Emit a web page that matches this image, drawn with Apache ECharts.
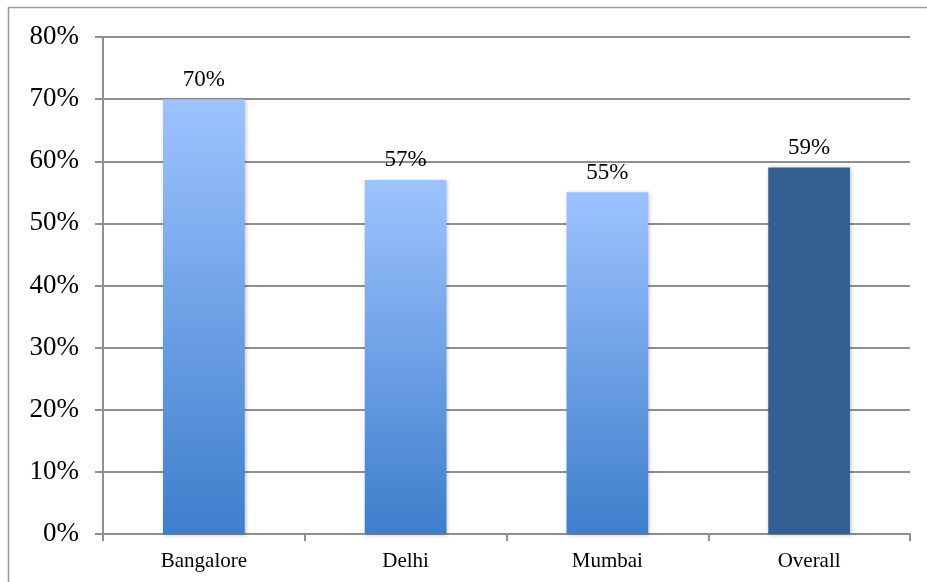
<!DOCTYPE html>
<html>
<head>
<meta charset="utf-8">
<script src="https://cdn.jsdelivr.net/npm/echarts@6/dist/echarts.min.js"></script>
<style>
  html, body { margin: 0; padding: 0; background: #fff; }
  #chart { width: 927px; height: 582px; }
</style>
</head>
<body>
<div id="chart"></div>
<script>
// Share of respondents by city
const categories = ['Bangalore', 'Delhi', 'Mumbai', 'Overall'];
const values = [70, 57, 55, 59];
const yTicks = { min: 0, max: 80, interval: 10 };

const FONT = '"Liberation Serif", "DejaVu Serif", serif';
const GRID_COLOR = '#8f8f8f';

const cityGradient = {
  type: 'linear', x: 0, y: 0, x2: 0, y2: 1,
  colorStops: [
    { offset: 0, color: '#9dc3ff' },
    { offset: 1, color: '#3e7ecc' }
  ]
};

const barData = values.map((v, i) => ({
  value: v,
  itemStyle: {
    color: categories[i] === 'Overall' ? '#365f91' : cityGradient
  }
}));

const chart = echarts.init(document.getElementById('chart'), null, { renderer: 'canvas' });
chart.setOption({
  animation: false,
  backgroundColor: '#ffffff',
  graphic: [{
    type: 'rect',
    shape: { x: 8.5, y: 7.5, width: 1000, height: 1000 },
    style: { fill: 'none', stroke: '#9a9a9a', lineWidth: 1.5 },
    silent: true
  }],
  grid: { left: 103, right: 17, top: 37, bottom: 48, containLabel: false },
  xAxis: {
    type: 'category',
    data: categories,
    axisLine: { lineStyle: { color: GRID_COLOR, width: 2 } },
    axisTick: { show: true, length: 7, alignWithLabel: false, lineStyle: { color: GRID_COLOR, width: 2 } },
    axisLabel: { color: '#000', fontFamily: FONT, fontSize: 21, margin: 17 },
    splitLine: { show: false }
  },
  yAxis: {
    type: 'value',
    min: yTicks.min,
    max: yTicks.max,
    interval: yTicks.interval,
    axisLine: { show: true, lineStyle: { color: GRID_COLOR, width: 2 } },
    axisTick: { show: true, length: 8, lineStyle: { color: GRID_COLOR, width: 2 } },
    axisLabel: {
      color: '#000', fontFamily: FONT, fontSize: 27, margin: 24,
      formatter: v => v + '%'
    },
    splitLine: { show: true, lineStyle: { color: GRID_COLOR, width: 2 } }
  },
  series: [{
    type: 'bar',
    data: barData,
    barWidth: '40.5%',
    itemStyle: {
      shadowColor: 'rgba(0,0,0,0.25)',
      shadowBlur: 4,
      shadowOffsetX: 1,
      shadowOffsetY: 1
    },
    label: {
      show: true,
      position: 'top',
      distance: 8,
      color: '#000',
      fontFamily: FONT,
      fontSize: 23,
      formatter: p => p.value + '%'
    }
  }]
});
</script>
</body>
</html>
